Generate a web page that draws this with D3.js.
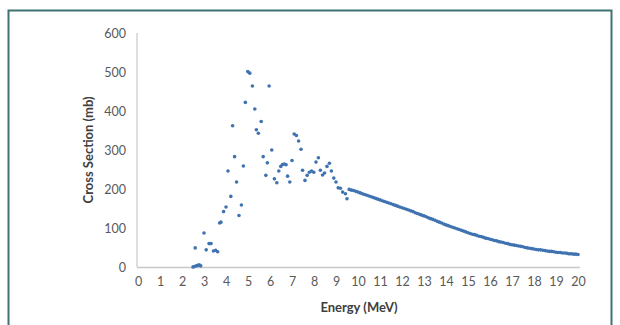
<!DOCTYPE html>
<html><head><meta charset="utf-8">
<script src="https://cdn.jsdelivr.net/npm/d3@7"></script>
<style>body{margin:0;background:#fff}svg{display:block}</style>
</head><body>
<svg id="c" width="620" height="325"></svg>
<script>
// Resonance-region measured points
const resEnergy = [2.50,2.55,2.60,2.65,2.70,2.75,2.80,2.85,3.00,3.10,3.23,3.32,3.43,3.53,3.62,3.71,3.77,3.89,4.00,4.09,4.22,4.30,4.39,4.48,4.59,4.70,4.79,4.88,4.99,5.08,5.20,5.31,5.38,5.47,5.60,5.69,5.81,5.88,5.96,6.08,6.20,6.31,6.40,6.49,6.57,6.65,6.73,6.80,6.90,7.00,7.10,7.20,7.30,7.41,7.48,7.59,7.69,7.79,7.89,7.99,8.09,8.20,8.29,8.39,8.48,8.59,8.70,8.79,8.90,9.00,9.10,9.20,9.30,9.43,9.50];
const resXS     = [0,1,49,3,4,5,5,3,87,44,60,60,41,43,39,113,115,142,154,246,181,362,283,218,132,159,259,422,501,497,464,405,352,343,373,283,235,267,464,300,226,216,246,258,263,264,262,233,218,273,341,337,323,302,248,222,235,243,246,243,269,280,248,236,241,258,266,246,228,218,203,202,192,188,175];
// Smooth high-energy part
const tailEnergy = [9.6,9.7,9.8,9.9,10.0,10.1,10.2,10.3,10.4,10.5,10.6,10.7,10.8,10.9,11.0,11.1,11.2,11.3,11.4,11.5,11.6,11.7,11.8,11.9,12.0,12.1,12.2,12.3,12.4,12.5,12.6,12.7,12.8,12.9,13.0,13.1,13.2,13.3,13.4,13.5,13.6,13.7,13.8,13.9,14.0,14.1,14.2,14.3,14.4,14.5,14.6,14.7,14.8,14.9,15.0,15.1,15.2,15.3,15.4,15.5,15.6,15.7,15.8,15.9,16.0,16.1,16.2,16.3,16.4,16.5,16.6,16.7,16.8,16.9,17.0,17.1,17.2,17.3,17.4,17.5,17.6,17.7,17.8,17.9,18.0,18.1,18.2,18.3,18.4,18.5,18.6,18.7,18.8,18.9,19.0,19.1,19.2,19.3,19.4,19.5,19.6,19.7,19.8,19.9,20.0];
const tailXS = [199,197,196,194,192,190,188,186,184,182,180,178,176,174,172,170,168,166,164,162,160,158,156,154,152,150,148,146,144,142,139,137,135,133,131,129,126,124,122,120,117,115,113,110,108,106,104,102,100,98,96,94,92,90,88,86,84,83,81,79,78,76,74,73,71,70,68,67,65,64,63,61,60,58,57,56,55,54,53,52,50,49,48,47,46,45,44,44,43,42,41,40,40,39,38,37,37,36,36,35,34,34,33,33,32];
const xTicks = [0,1,2,3,4,5,6,7,8,9,10,11,12,13,14,15,16,17,18,19,20];
const yTicks = [0,100,200,300,400,500,600];

const svg = d3.select("#c");
const font = "Lato, 'Open Sans', sans-serif";

// outer frame
svg.append("rect").attr("x",8.5).attr("y",10.5).attr("width",603).attr("height",330)
  .attr("fill","none").attr("stroke","#3f7272").attr("stroke-width",2);

const x = d3.scaleLinear().domain([0,20]).range([138,578]);
const y = d3.scaleLinear().domain([0,600]).range([267,33]);

// axes lines
svg.append("line").attr("x1",137).attr("x2",137).attr("y1",y(600)).attr("y2",y(0))
  .attr("stroke","#c8c8c8").attr("stroke-width",1.2);
svg.append("line").attr("x1",137).attr("x2",580).attr("y1",y(0)+0.5).attr("y2",y(0)+0.5)
  .attr("stroke","#c8c8c8").attr("stroke-width",1.5);

const xAxis = d3.axisBottom(x).tickValues(xTicks).tickSize(0).tickPadding(0).tickFormat(d3.format("d"));
const gx = svg.append("g").attr("transform",`translate(0,${y(0)+10})`).call(xAxis);
gx.select(".domain").remove();
gx.selectAll("text").attr("font-family",font).attr("font-size",12.5).attr("fill","#595959");

const yAxis = d3.axisLeft(y).tickValues(yTicks).tickSize(0).tickPadding(0);
const gy = svg.append("g").attr("transform",`translate(126,0)`).call(yAxis);
gy.select(".domain").remove();
gy.selectAll("text").attr("font-family",font).attr("font-size",12.5).attr("fill","#595959");

// titles
svg.append("text").attr("x",359).attr("y",312).attr("text-anchor","middle")
  .attr("font-family",font).attr("font-size",13).attr("font-weight","bold").attr("fill","#404040")
  .text("Energy (MeV)");
svg.append("text").attr("transform","translate(93,150) rotate(-90)").attr("text-anchor","middle")
  .attr("font-family",font).attr("font-size",13).attr("font-weight","bold").attr("fill","#404040")
  .text("Cross Section (mb)");

const color = "#3f72b0";
const res = resEnergy.map((e,i)=>({e, v:resXS[i]}));
const tail = tailEnergy.map((e,i)=>({e, v:tailXS[i]}));
svg.append("g").selectAll("circle").data(res).join("circle")
  .attr("cx",d=>x(d.e)).attr("cy",d=>y(d.v)).attr("r",1.8).attr("fill",color);
svg.append("g").selectAll("circle").data(tail).join("circle")
  .attr("cx",d=>x(d.e)).attr("cy",d=>y(d.v)).attr("r",1.8).attr("fill",color);
</script>
</body></html>
